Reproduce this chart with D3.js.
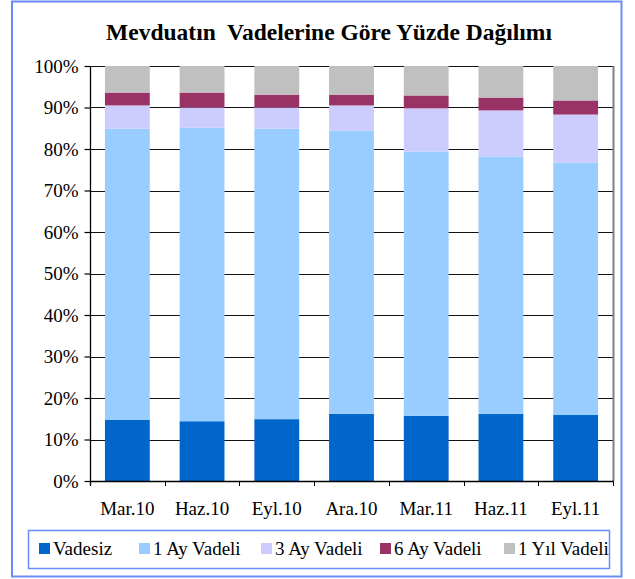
<!DOCTYPE html>
<html>
<head>
<meta charset="utf-8">
<script src="https://cdn.jsdelivr.net/npm/d3@7"></script>
<style>
  html, body { margin: 0; padding: 0; background: #fff; }
  svg { display: block; }
  text { font-family: "Liberation Serif", "Times New Roman", serif; fill: #000; }
</style>
</head>
<body>
<svg id="chart" width="635" height="579"></svg>
<script>
// Quarterly periods
const categories = ["Mar.10", "Haz.10", "Eyl.10", "Ara.10", "Mar.11", "Haz.11", "Eyl.11"];

// Share of deposits by maturity (%), one array per maturity group
const vadesiz   = [14.7, 14.4, 14.9, 16.2, 15.7, 16.2, 15.9];
const ay1Vadeli = [70.2, 70.7, 70.0, 68.2, 63.7, 62.0, 60.8];
const ay3Vadeli = [5.6, 4.9, 5.1, 6.1, 10.4, 11.1, 11.6];
const ay6Vadeli = [3.1, 3.6, 3.1, 2.6, 3.1, 3.1, 3.4];
const yil1Vadeli = [6.4, 6.4, 6.9, 6.9, 7.1, 7.6, 8.3];

const seriesNames = ["Vadesiz", "1 Ay Vadeli", "3 Ay Vadeli", "6 Ay Vadeli", "1 Yıl Vadeli"];
const seriesValues = [vadesiz, ay1Vadeli, ay3Vadeli, ay6Vadeli, yil1Vadeli];
const seriesColors = ["#0066cc", "#99ccff", "#ccccff", "#993366", "#c0c0c0"];

const yTicks = [0, 10, 20, 30, 40, 50, 60, 70, 80, 90, 100];
const titleText = "Mevduatın  Vadelerine Göre Yüzde Dağılımı";

const svg = d3.select("#chart");
const labelFont = "19px";

// Outer chart frame
svg.append("rect")
  .attr("x", 12).attr("y", 1.5)
  .attr("width", 609.5).attr("height", 575)
  .attr("fill", "none").attr("stroke", "#6a8cf6").attr("stroke-width", 2);

// Title
svg.append("text")
  .attr("x", 329).attr("y", 40)
  .attr("text-anchor", "middle")
  .style("font-size", "23.5px").style("font-weight", "bold")
  .style("white-space", "pre")
  .text(titleText);

const plot = { left: 90, right: 613, top: 66, bottom: 481 };

// Rows for stacking
const rows = categories.map((c, i) => {
  const r = { cat: c };
  seriesNames.forEach((s, k) => { r[s] = seriesValues[k][i]; });
  return r;
});
const stacked = d3.stack().keys(seriesNames)
  .offset(d3.stackOffsetExpand)(rows);

const x = d3.scaleBand().domain(categories)
  .range([plot.left, plot.right])
  .paddingInner(0.4).paddingOuter(0.2);
const y = d3.scaleLinear().domain([0, 1]).range([plot.bottom, plot.top]);

// Horizontal gridlines
svg.append("g")
  .selectAll("line")
  .data(yTicks.filter(t => t > 0))
  .join("line")
  .attr("x1", plot.left).attr("x2", plot.right)
  .attr("y1", d => Math.round(y(d / 100)) + 0.5)
  .attr("y2", d => Math.round(y(d / 100)) + 0.5)
  .attr("stroke", "#111").attr("stroke-width", 1.2);

// Right plot edge
svg.append("line")
  .attr("x1", plot.right + 0.5).attr("x2", plot.right + 0.5)
  .attr("y1", plot.top).attr("y2", plot.bottom)
  .attr("stroke", "#808080").attr("stroke-width", 2);

// Stacked bars
svg.append("g")
  .selectAll("g")
  .data(stacked)
  .join("g")
  .attr("fill", (d, i) => seriesColors[i])
  .selectAll("rect")
  .data(d => d)
  .join("rect")
  .attr("x", d => x(d.data.cat))
  .attr("width", x.bandwidth())
  .attr("y", d => y(d[1]))
  .attr("height", d => y(d[0]) - y(d[1]));

// Y axis
const yAxis = d3.axisLeft(y)
  .tickValues(yTicks.map(t => t / 100))
  .tickFormat(d => Math.round(d * 100) + "%")
  .tickSize(6).tickPadding(6);
const gy = svg.append("g")
  .attr("transform", `translate(${plot.left + 0.5},0)`)
  .call(yAxis);
gy.select(".domain").attr("d", `M0,${plot.top}V${plot.bottom + 5}`).attr("stroke", "#000").attr("stroke-width", 1.3);
gy.selectAll(".tick line").attr("stroke", "#000").attr("stroke-width", 1.2);
gy.selectAll(".tick text")
  .style("font-family", "'Liberation Serif', 'Times New Roman', serif")
  .style("font-size", labelFont).attr("fill", "#000");

// X axis with ticks on category boundaries
const boundaries = d3.range(categories.length + 1).map(i => plot.left + i * (plot.right - plot.left) / categories.length);
const gx = svg.append("g");
gx.append("line")
  .attr("x1", plot.left).attr("x2", plot.right + 1)
  .attr("y1", plot.bottom + 0.5).attr("y2", plot.bottom + 0.5)
  .attr("stroke", "#000").attr("stroke-width", 1.5);
gx.selectAll("line.tk")
  .data(boundaries.slice(1))
  .join("line").attr("class", "tk")
  .attr("x1", d => Math.round(d) + 0.5).attr("x2", d => Math.round(d) + 0.5)
  .attr("y1", plot.bottom).attr("y2", plot.bottom + 5)
  .attr("stroke", "#000");
gx.selectAll("text")
  .data(categories)
  .join("text")
  .attr("x", d => x(d) + x.bandwidth() / 2)
  .attr("y", 515)
  .attr("text-anchor", "middle")
  .style("font-size", labelFont)
  .text(d => d);

// Legend
const legend = svg.append("g");
legend.append("rect")
  .attr("x", 28.5).attr("y", 530.5)
  .attr("width", 581).attr("height", 38)
  .attr("fill", "none").attr("stroke", "#6a8cf6").attr("stroke-width", 1.5);
const legendX = [39, 139, 261, 380, 504];
const items = legend.selectAll("g.item")
  .data(seriesNames)
  .join("g").attr("class", "item")
  .attr("transform", (d, i) => `translate(${legendX[i]},543)`);
items.append("rect")
  .attr("width", 11).attr("height", 11)
  .attr("fill", (d, i) => seriesColors[i]);
items.append("text")
  .attr("x", 14).attr("y", 12)
  .style("font-size", labelFont)
  .text(d => d);
</script>
</body>
</html>
